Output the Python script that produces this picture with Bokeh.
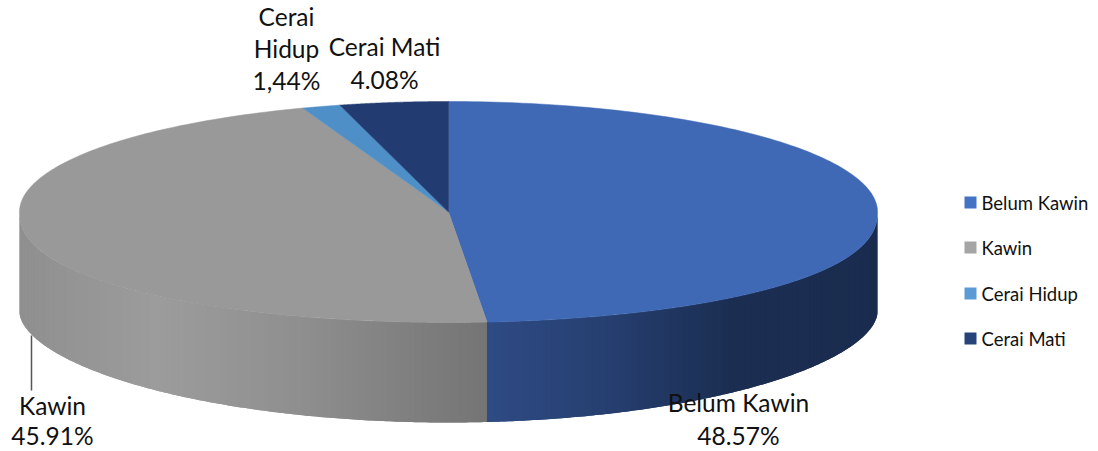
import numpy as np
from bokeh.plotting import figure
from bokeh.embed import file_html
from bokeh.resources import INLINE
from bokeh.core.properties import value

# ---- data ----
categories = ["Belum Kawin", "Kawin", "Cerai Hidup", "Cerai Mati"]
shares = [48.57, 45.91, 1.44, 4.08]
share_labels = ["48.57%", "45.91%", "1,44%", "4.08%"]
top_colors = ["#3F69B5", "#999999", "#4F8FC8", "#223B70"]
legend_colors = ["#4472C4", "#A5A5A5", "#5B9BD5", "#264478"]

# ---- geometry (picture pixels) ----
W, H = 1098, 451
CX, CY, RX, RY, DEPTH = 448.0, 211.5, 429.0, 110.5, 100.0

p = figure(width=W, height=H, output_backend="svg", toolbar_location=None,
           x_range=(0, W), y_range=(H, 0), min_border=0,
           outline_line_color=None)
p.axis.visible = False
p.grid.visible = False
p.background_fill_color = "white"
p.border_fill_color = "white"


def rim_x(t):
    return CX + RX * np.sin(t)


def rim_y(t):
    c = np.cos(t)
    return CY - RY * np.where(c >= 0, c, -np.abs(c) ** 0.89)


def base_y(t):
    c = np.cos(t)
    return CY + DEPTH - RY * np.where(c >= 0, c, -np.abs(c) ** 1.1)


edges = 2 * np.pi * np.cumsum([0] + shares) / sum(shares)


def ramp(x, stops):
    xs = [s[0] for s in stops]
    rgb = [np.interp(x, xs, [int(s[1][i:i + 2], 16) for s in stops]) for i in (1, 3, 5)]
    return "#%02x%02x%02x" % tuple(int(round(v)) for v in rgb)


# side wall: overlapping narrow strips following a horizontal shading ramp,
# each painted over the previous one so no seams show
blue_ramp = [(485, "#2F4B85"), (608, "#263F70"), (728, "#1B2E52"), (888, "#1A2C4E")]
gray_ramp = [(18, "#8F8F8F"), (158, "#9C9C9C"), (308, "#8E8E8E"), (485, "#757575")]

sx, sy, sc = [], [], []
for start, stop, stops in ((np.pi / 2, edges[1], blue_ramp),
                           (3 * np.pi / 2, edges[1], gray_ramp)):
    n = max(8, int(abs(stop - start) * 60))
    grid = np.linspace(start, stop, n + 1)
    for k in range(n):
        a, b = grid[k], grid[min(k + 2, n)]
        tt = np.linspace(a, b, 5)
        xx = rim_x(tt)
        sx.append(np.r_[xx, xx[::-1]])
        sy.append(np.r_[rim_y(tt), base_y(tt)[::-1]])
        sc.append(ramp(rim_x((grid[k] + grid[k + 1]) / 2), stops))
p.patches(sx, sy, fill_color=sc, line_color=None)

# top face
for i in range(len(shares)):
    tt = np.linspace(edges[i], edges[i + 1], 160)
    p.patch(np.r_[CX, rim_x(tt)], np.r_[CY, rim_y(tt)],
            fill_color=top_colors[i], line_color=top_colors[i], line_width=0.5)

# leader line for the Kawin label
p.line([31, 31], [335, 390], line_color="#555555", line_width=1.5)

# data labels (lines of text, centred)
font = value("Lato")
label_lines = [
    ("Belum Kawin", 738, 402), (share_labels[0], 738, 435),
    ("Kawin", 52, 405), (share_labels[1], 52, 435),
    ("Cerai", 286, 16), ("Hidup", 286, 48), (share_labels[2], 286, 80),
    ("Cerai Mati", 384, 46), (share_labels[3], 384, 79),
]
p.text([l[1] for l in label_lines], [l[2] for l in label_lines],
       text=[l[0] for l in label_lines], text_font=font, text_font_size="24.5px",
       text_color="#111111", text_align="center", text_baseline="middle")

# legend
legend_y = [202, 247, 293, 338]
p.rect([970] * 4, legend_y, width=12, height=12, fill_color=legend_colors, line_color=None)
p.text([981] * 4, legend_y, text=categories, text_font=font, text_font_size="18.5px",
       text_color="#111111", text_align="left", text_baseline="middle")

open("out.html", "w").write(file_html(p, INLINE))
